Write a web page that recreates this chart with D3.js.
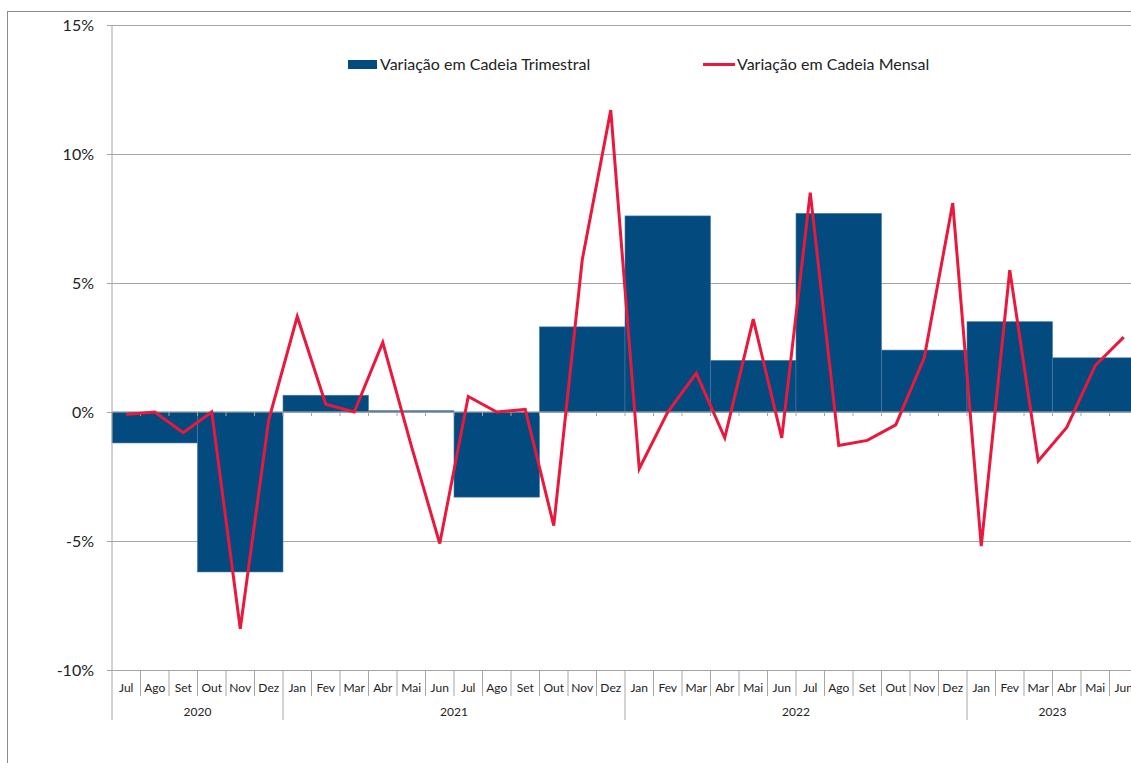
<!DOCTYPE html>
<meta charset="utf-8">
<style>
  body { margin: 0; background: #fff; }
  text { font-family: Lato, "Open Sans", sans-serif; fill: #222; }
</style>
<body>
<div id="chart"></div>
<script src="https://d3js.org/d3.v7.min.js"></script>
<script>

// months shown on the x axis (Jul 2020 .. Jun 2023)
var months = ["Jul","Ago","Set","Out","Nov","Dez",
  "Jan","Fev","Mar","Abr","Mai","Jun","Jul","Ago","Set","Out","Nov","Dez",
  "Jan","Fev","Mar","Abr","Mai","Jun","Jul","Ago","Set","Out","Nov","Dez",
  "Jan","Fev","Mar","Abr","Mai","Jun"];
var years = ["2020","2021","2022","2023"];
var monthsPerYear = [6, 12, 12, 6];

// monthly chain variation (%)
var monthly = [-0.1, 0.0, -0.8, 0.0, -8.4, -0.3,
  3.7, 0.3, 0.0, 2.7, -1.3, -5.1, 0.6, 0.0, 0.1, -4.4, 5.9, 11.7,
  -2.2, 0.0, 1.5, -1.0, 3.6, -1.0, 8.5, -1.3, -1.1, -0.5, 2.1, 8.1,
  -5.2, 5.5, -1.9, -0.6, 1.8, 2.9];

// quarterly chain variation (%), each spans 3 months
var quarters = ["3T2020","4T2020","1T2021","2T2021","3T2021","4T2021",
  "1T2022","2T2022","3T2022","4T2022","1T2023","2T2023"];
var quarterly = [-1.2, -6.2, 0.65, 0.05, -3.3, 3.3, 7.6, 2.0, 7.7, 2.4, 3.5, 2.1];

var yTicks = [-10, -5, 0, 5, 10, 15];

var W = 1131, H = 763;
var plotLeft = 112, plotTop = 25, plotBottom = 670;
var bandW = 28.5;

var svg = d3.select("#chart").append("svg")
  .attr("width", W).attr("height", H);

// outer chart frame
svg.append("rect")
  .attr("x", 7.5).attr("y", 11.5)
  .attr("width", W + 20).attr("height", H + 20)
  .attr("fill", "#fff").attr("stroke", "#8c8c8c");

var keys = months.map(function(m, i) { return i; });
var x = d3.scaleBand()
  .domain(keys)
  .range([plotLeft, plotLeft + months.length * bandW])
  .padding(0);

var y = d3.scaleLinear()
  .domain([-10, 15])
  .range([plotBottom, plotTop]);

// gridlines + y labels
var yAxis = svg.append("g")
  .attr("transform", "translate(107,0)")
  .call(d3.axisLeft(y).tickValues(yTicks)
    .tickFormat(function(d) { return d + "%"; })
    .tickSize(-(W - 107)).tickPadding(13));
yAxis.select(".domain").remove();
yAxis.selectAll("line").attr("stroke", "#a6a6a6");
yAxis.selectAll("text").style("font-size", "16px").attr("fill", "#222");

// quarterly bars
svg.append("g").selectAll("rect")
  .data(quarterly)
  .enter().append("rect")
    .attr("x", function(d, i) { return x(i * 3); })
    .attr("width", x.bandwidth() * 3)
    .attr("y", function(d) { return y(Math.max(0, d)); })
    .attr("height", function(d) { return Math.max(1, Math.abs(y(d) - y(0))); })
    .attr("fill", "#034a7e")
    .attr("stroke", "#4a7aa6").attr("stroke-width", 0.6);

// zero axis with small ticks
svg.append("line")
  .attr("x1", plotLeft).attr("x2", W)
  .attr("y1", y(0)).attr("y2", y(0))
  .attr("stroke", "#a6a6a6");
svg.append("g").selectAll("line")
  .data(keys.slice(1))
  .enter().append("line")
    .attr("x1", function(d) { return x(d); }).attr("x2", function(d) { return x(d); })
    .attr("y1", y(0)).attr("y2", y(0) + 4)
    .attr("stroke", "#a6a6a6");

// left axis line
svg.append("line")
  .attr("x1", plotLeft).attr("x2", plotLeft)
  .attr("y1", plotTop).attr("y2", 720)
  .attr("stroke", "#a6a6a6");

// monthly line
var line = d3.line()
  .x(function(d, i) { return x(i) + x.bandwidth() / 2; })
  .y(function(d) { return y(d); });
svg.append("path")
  .datum(monthly)
  .attr("d", line)
  .attr("fill", "none")
  .attr("stroke", "#e8193c")
  .attr("stroke-width", 3)
  .attr("stroke-linejoin", "miter");

// category axis: month and year labels
var yearStarts = [];
var acc = 0;
monthsPerYear.forEach(function(n) { yearStarts.push(acc); acc += n; });

svg.append("g").selectAll("line")
  .data(keys.slice(1))
  .enter().append("line")
    .attr("x1", function(d) { return x(d); }).attr("x2", function(d) { return x(d); })
    .attr("y1", plotBottom)
    .attr("y2", function(d) { return yearStarts.indexOf(d) >= 0 ? 720 : 696; })
    .attr("stroke", "#a6a6a6");

svg.append("g").selectAll("text")
  .data(months)
  .enter().append("text")
    .attr("x", function(d, i) { return x(i) + x.bandwidth() / 2; })
    .attr("y", 692)
    .attr("text-anchor", "middle")
    .style("font-size", "12px")
    .text(function(d) { return d; });

svg.append("g").selectAll("text")
  .data(years)
  .enter().append("text")
    .attr("x", function(d, i) {
      return x(yearStarts[i]) + monthsPerYear[i] * bandW / 2;
    })
    .attr("y", 716)
    .attr("text-anchor", "middle")
    .style("font-size", "12px")
    .text(function(d) { return d; });

// legend
var lg = svg.append("g");
lg.append("rect").attr("x", 348).attr("y", 60).attr("width", 29).attr("height", 9)
  .attr("fill", "#034a7e");
lg.append("text").attr("x", 380).attr("y", 70).style("font-size", "16px")
  .text("Variação em Cadeia Trimestral");
lg.append("line").attr("x1", 703).attr("x2", 735).attr("y1", 64.5).attr("y2", 64.5)
  .attr("stroke", "#e8193c").attr("stroke-width", 3);
lg.append("text").attr("x", 737).attr("y", 70).style("font-size", "16px")
  .text("Variação em Cadeia Mensal");

</script>
</body>
